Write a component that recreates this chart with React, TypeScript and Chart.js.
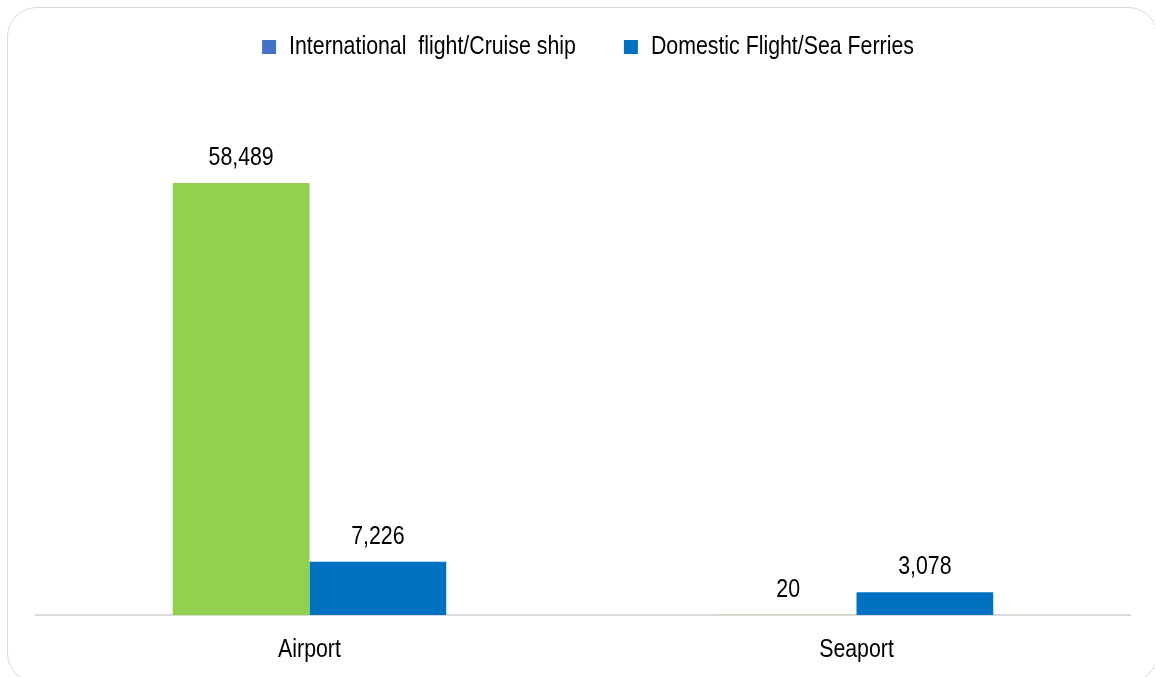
import React, { useEffect, useRef } from "react";
import { Chart, registerables } from "chart.js";

Chart.register(...registerables);

const categories = ["Airport", "Seaport"];
const seriesNames = ["International  flight/Cruise ship", "Domestic Flight/Sea Ferries"];
const internationalValues = [58489, 20];
const domesticValues = [7226, 3078];
const barColors = ["#92D050", "#0070C0"];
const legendColors = ["#4472C4", "#0070C0"];
const yMax = 70000;

const FONT = "'Liberation Sans Narrow', 'Arial Narrow', 'Liberation Sans', Arial, sans-serif";
const FS = 26;
const SX = 0.82; // horizontal condensing of text (Arial Narrow look)

const dataLabelPlugin = {
  id: "dataLabels",
  afterDatasetsDraw(chart: any) {
    const ctx = chart.ctx;
    ctx.save();
    ctx.font = `${FS}px ${FONT}`;
    ctx.fillStyle = "#000";
    ctx.textAlign = "center";
    ctx.textBaseline = "middle";
    chart.data.datasets.forEach((ds: any, i: number) => {
      const meta = chart.getDatasetMeta(i);
      meta.data.forEach((el: any, j: number) => {
        const v = ds.data[j];
        ctx.fillText(Number(v).toLocaleString("en-US"), el.x, el.y - 25);
      });
    });
    ctx.restore();
  },
};

const legendFitPlugin = {
  id: "legendFit",
  beforeInit(chart: any) {
    const legend = chart.legend;
    const origFit = legend.fit;
    legend.fit = function () {
      origFit.call(this);
      this.height = 98;
    };
    const origDraw = legend.draw;
    legend.draw = function () {
      const ctx = this.ctx;
      ctx.save();
      ctx.translate(5, -14);
      origDraw.call(this);
      ctx.restore();
    };
  },
};

function condenseText(ctx: any) {
  const origFill = ctx.fillText.bind(ctx);
  const origMeasure = ctx.measureText.bind(ctx);
  ctx.fillText = (text: string, x: number, y: number, maxWidth?: number) => {
    ctx.save();
    ctx.translate(x, y);
    ctx.scale(SX, 1);
    if (maxWidth !== undefined) origFill(text, 0, 0, maxWidth / SX);
    else origFill(text, 0, 0);
    ctx.restore();
  };
  ctx.measureText = (text: string) => {
    const m = origMeasure(text);
    return {
      width: m.width * SX,
      actualBoundingBoxLeft: m.actualBoundingBoxLeft * SX,
      actualBoundingBoxRight: m.actualBoundingBoxRight * SX,
      actualBoundingBoxAscent: m.actualBoundingBoxAscent,
      actualBoundingBoxDescent: m.actualBoundingBoxDescent,
      fontBoundingBoxAscent: m.fontBoundingBoxAscent,
      fontBoundingBoxDescent: m.fontBoundingBoxDescent,
    };
  };
}

export default function App() {
  const ref = useRef<HTMLCanvasElement | null>(null);
  useEffect(() => {
    if (!ref.current) return;
    const ctx2d = ref.current.getContext("2d");
    condenseText(ctx2d);
    const chart = new Chart(ref.current, {
      type: "bar",
      data: {
        labels: categories,
        datasets: [
          {
            label: seriesNames[0],
            data: internationalValues,
            backgroundColor: barColors[0],
            borderWidth: 0,
            categoryPercentage: 0.5,
            barPercentage: 1,
          },
          {
            label: seriesNames[1],
            data: domesticValues,
            backgroundColor: barColors[1],
            borderWidth: 0,
            categoryPercentage: 0.5,
            barPercentage: 1,
          },
        ],
      },
      options: {
        animation: false,
        responsive: false,
        maintainAspectRatio: false,
        layout: { padding: { left: 36, right: 25, top: 0, bottom: 12 } },
        plugins: {
          tooltip: { enabled: false },
          legend: {
            position: "top",
            labels: {
              boxWidth: 14,
              boxHeight: 14,
              padding: 48,
              color: "#000",
              font: { family: FONT, size: FS },
              generateLabels: (c: any) =>
                c.data.datasets.map((ds: any, i: number) => ({
                  text: ds.label,
                  fillStyle: legendColors[i],
                  strokeStyle: legendColors[i],
                  lineWidth: 0,
                  hidden: false,
                  datasetIndex: i,
                  fontColor: "#000",
                })),
            },
          },
        },
        scales: {
          x: {
            grid: { display: false, drawTicks: false },
            border: { display: true, color: "#d9d9d9", width: 2 },
            ticks: { color: "#000", font: { family: FONT, size: FS }, padding: 19 },
            afterFit: (scale: any) => {
              scale.height = 50;
            },
          },
          y: {
            display: false,
            min: 0,
            max: yMax,
          },
        },
      },
      plugins: [dataLabelPlugin, legendFitPlugin],
    });
    return () => chart.destroy();
  }, []);

  return (
    <div
      style={{
        position: "fixed",
        left: 0,
        top: 0,
        width: 1155,
        height: 677,
        overflow: "hidden",
        background: "#fff",
      }}
    >
      <div
        style={{
          position: "absolute",
          left: 7,
          top: 7,
          width: 1151,
          height: 676,
          boxSizing: "border-box",
          border: "1.5px solid #d9d9d9",
          borderRadius: 30,
        }}
      />
      <canvas
        ref={ref}
        width={1155}
        height={677}
        style={{ position: "absolute", left: 0, top: 0, width: 1155, height: 677 }}
      />
    </div>
  );
}
